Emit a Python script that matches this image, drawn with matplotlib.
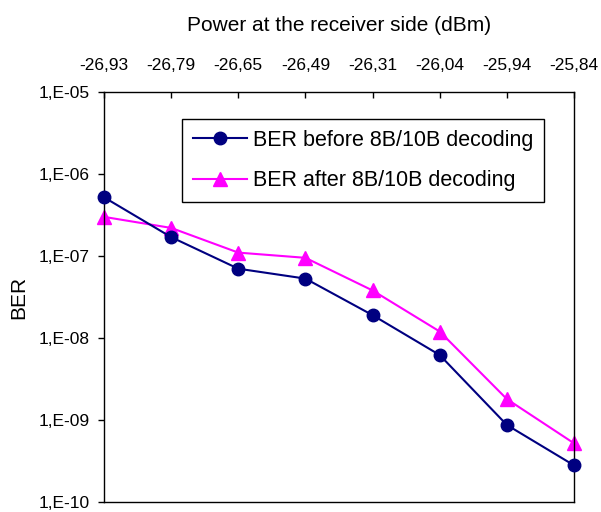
import matplotlib
matplotlib.use("Agg")
import matplotlib.pyplot as plt
import numpy as np

# received power (dBm), shown as category labels on the top axis
power_labels = ["-26,93", "-26,79", "-26,65", "-26,49", "-26,31", "-26,04", "-25,94", "-25,84"]

ber_before = [5.2e-7, 1.7e-7, 7.0e-8, 5.3e-8, 1.9e-8, 6.2e-9, 8.7e-10, 2.8e-10]
ber_after = [3.0e-7, 2.2e-7, 1.1e-7, 9.5e-8, 3.8e-8, 1.2e-8, 1.8e-9, 5.2e-10]

y_ticks = [1e-5, 1e-6, 1e-7, 1e-8, 1e-9, 1e-10]
y_tick_labels = ["1,E-05", "1,E-06", "1,E-07", "1,E-08", "1,E-09", "1,E-10"]

plt.rcParams["font.family"] = ["Liberation Sans", "DejaVu Sans"]

fig = plt.figure(figsize=(6.01, 5.12), dpi=100)
ax = fig.add_axes([104 / 601, 10 / 512, 470 / 601, 410 / 512])

x = np.arange(len(power_labels))
ax.plot(x, ber_before, color="#000080", linewidth=1.5, marker="o", markersize=9,
        label="BER before 8B/10B decoding", clip_on=False, zorder=3)
ax.plot(x, ber_after, color="#FF00FF", linewidth=1.5, marker="^", markersize=10,
        label="BER after 8B/10B decoding", clip_on=False, zorder=2)

ax.set_yscale("log")
ax.set_ylim(1e-10, 1e-5)
ax.set_yticks(y_ticks)
ax.set_yticklabels(y_tick_labels, fontsize=12.5)
ax.minorticks_off()
ax.tick_params(axis="y", direction="out", length=4.5, width=1, color="black", pad=6)
ax.set_ylabel("BER", fontsize=15, labelpad=7)

ax.set_xlim(0, len(power_labels) - 1)
ax.set_xticks(x)
ax.set_xticklabels(power_labels, fontsize=12.5)
ax.xaxis.tick_top()
ax.tick_params(axis="x", direction="in", length=4.5, width=1, pad=14,
               top=True, bottom=False)
ax.set_xlabel("Power at the receiver side (dBm)", fontsize=15, labelpad=19)
ax.xaxis.set_label_position("top")

for s in ax.spines.values():
    s.set_color("black")
    s.set_linewidth(1)

leg = ax.legend(loc="upper left", bbox_to_anchor=(182 / 601, 1 - 119 / 512),
                bbox_transform=fig.transFigure, fontsize=15.5, frameon=True,
                fancybox=False, edgecolor="black", framealpha=1,
                handlelength=2.5, borderpad=0.5, labelspacing=0.9,
                handletextpad=0.3, borderaxespad=0)
leg.get_frame().set_linewidth(1)

fig.savefig("out.png", dpi=100)
